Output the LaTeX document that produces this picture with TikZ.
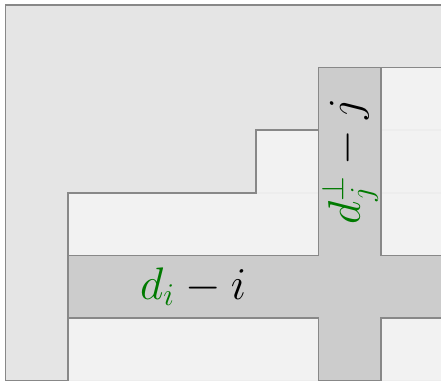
\documentclass[tikz,border=0pt]{standalone}
\usepackage{amsmath,amssymb}
\usetikzlibrary{positioning}
\definecolor{FrameGray}{HTML}{888888}
\definecolor{OuterGray}{HTML}{E5E5E5}
\definecolor{RowGray}{HTML}{F2F2F2}
\definecolor{HookGray}{HTML}{CCCCCC}
\definecolor{HookGreen}{RGB}{0,122,0}

\begin{document}
\begin{tikzpicture}[line width=0.7pt,
 frame/.style={draw=FrameGray},
 row/.style={fill=RowGray,draw=black!7},
 hook/.style={fill=HookGray,draw=FrameGray},
 lbl/.style={font=\fontsize{22}{26}\selectfont}]
\useasboundingbox (-1.086,0) rectangle (5.96,6.08);
\clip (-1.086,0) rectangle (5.96,6.08);
% outer region
\filldraw[frame,fill=OuterGray] (-1,0) rectangle (7,6);
% rows of the diagram
\foreach \x/\y in {0/0,0/1,0/2,3/3,4/4}
 \filldraw[row] (\x,\y) rectangle (7,\y+1);
\draw[frame] (0,0) |- (3,3) |- (4,4) |- (7,5);
% hook through the cell
\filldraw[hook] (0,1) -- (0,2) -- (4,2) -- (4,5) -- (5,5) -- (5,2) -- (7,2)
 -- (7,1) -- (5,1) -- (5,0) -- (4,0) -- (4,1) -- cycle;
\node[lbl] (arm) at (2,1.5) {${\color{HookGreen}d_i} - i$};
\node[lbl,rotate=90] (leg) at (4.5,3.5) {${\color{HookGreen}d_j^\perp} - j$};
\end{tikzpicture}
\end{document}
